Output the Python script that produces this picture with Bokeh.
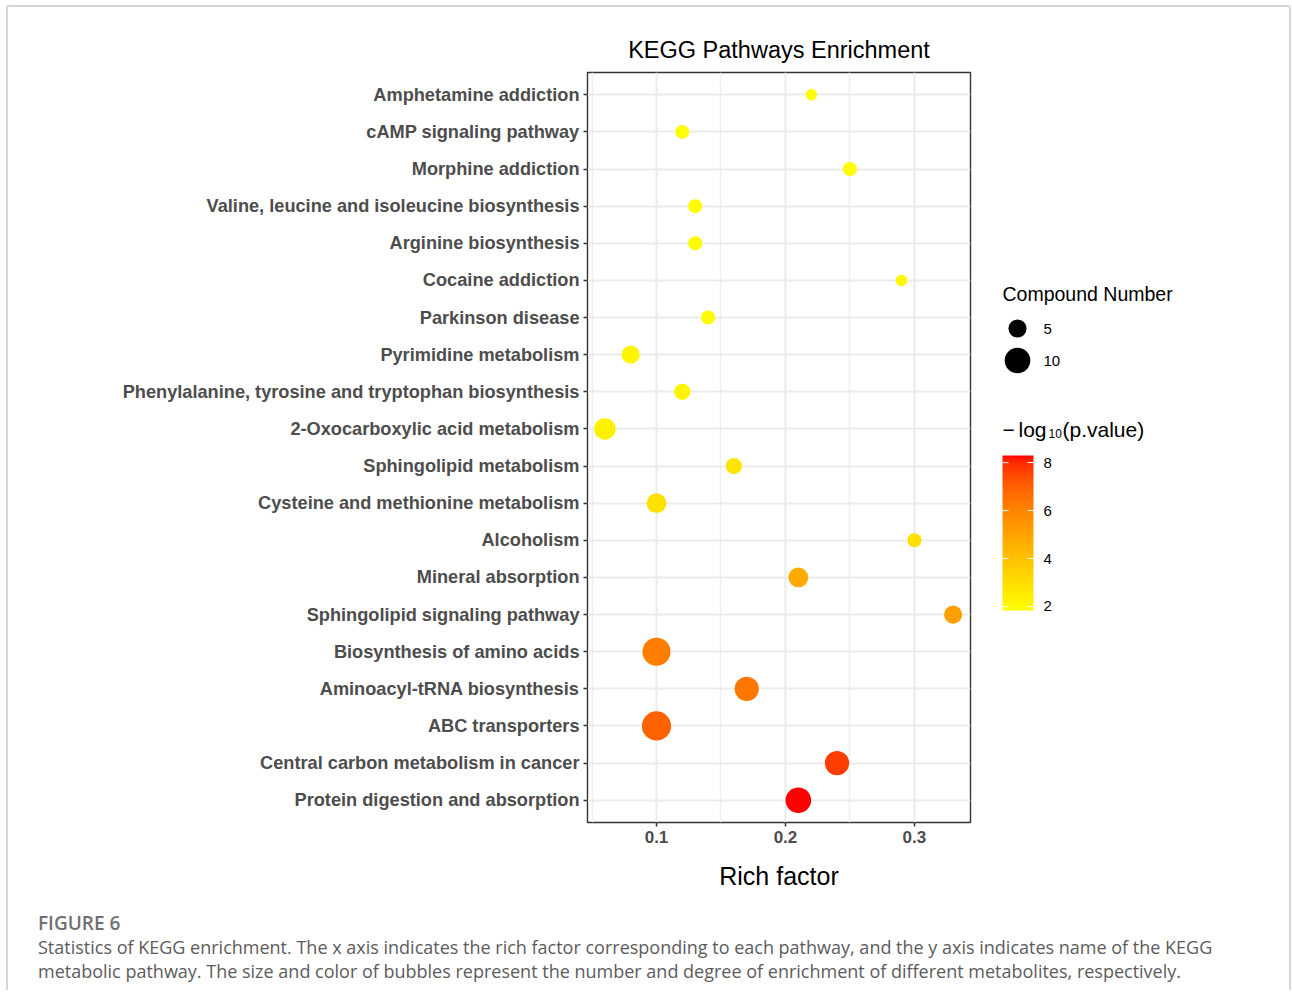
import math
from bokeh.plotting import figure
from bokeh.models import (Range1d, FixedTicker, LinearColorMapper, ColorBar,
                          ColumnDataSource, Div)
from bokeh.layouts import column, row
from bokeh.core.properties import value
from bokeh.embed import file_html
from bokeh.resources import INLINE

# ---------------- data ----------------
pathways = [
    "Amphetamine addiction",
    "cAMP signaling pathway",
    "Morphine addiction",
    "Valine, leucine and isoleucine biosynthesis",
    "Arginine biosynthesis",
    "Cocaine addiction",
    "Parkinson disease",
    "Pyrimidine metabolism",
    "Phenylalanine, tyrosine and tryptophan biosynthesis",
    "2-Oxocarboxylic acid metabolism",
    "Sphingolipid metabolism",
    "Cysteine and methionine metabolism",
    "Alcoholism",
    "Mineral absorption",
    "Sphingolipid signaling pathway",
    "Biosynthesis of amino acids",
    "Aminoacyl-tRNA biosynthesis",
    "ABC transporters",
    "Central carbon metabolism in cancer",
    "Protein digestion and absorption",
]
rich_factor = [0.22, 0.12, 0.25, 0.13, 0.13, 0.29, 0.14, 0.08, 0.12, 0.06,
               0.16, 0.10, 0.30, 0.21, 0.33, 0.10, 0.17, 0.10, 0.24, 0.21]
compound_number = [2, 3, 3, 3, 3, 2, 3, 5, 4, 7,
                   4, 6, 3, 6, 5, 12, 9, 13, 9, 10]
neg_log10_p = [1.83, 1.90, 1.90, 1.95, 1.95, 2.10, 2.00, 2.20, 2.20, 2.30,
               2.80, 2.90, 2.95, 4.80, 5.10, 6.20, 6.40, 6.90, 7.70, 8.30]
x_ticks = [0.1, 0.2, 0.3]
x_minor_ticks = [0.05, 0.15, 0.25]
size_legend_values = [5, 10]
color_ticks = [2, 4, 6, 8]

title_text = "KEGG Pathways Enrichment"
x_label = "Rich factor"
size_legend_title = "Compound Number"
caption_head = "FIGURE 6"
caption_text = ("Statistics of KEGG enrichment. The x axis indicates the rich factor "
                "corresponding to each pathway, and the y axis indicates name of the KEGG<br>"
                "metabolic pathway. The size and color of bubbles represent the number and "
                "degree of enrichment of different metabolites, respectively.")

# ---------------- helpers ----------------
FONT = "Liberation Sans"
SIZE_K = 8.1  # px diameter per sqrt(count)


def _lin(c):
    c = c / 255.0
    return c / 12.92 if c <= 0.04045 else ((c + 0.055) / 1.055) ** 2.4


def _delin(c):
    c = 12.92 * c if c <= 0.0031308 else 1.055 * c ** (1 / 2.4) - 0.055
    return max(0, min(255, round(c * 255)))


def rgb_to_lab(rgb):
    r, g, b = (_lin(v) for v in rgb)
    X = (0.4124 * r + 0.3576 * g + 0.1805 * b) / 0.95047
    Y = (0.2126 * r + 0.7152 * g + 0.0722 * b)
    Z = (0.0193 * r + 0.1192 * g + 0.9505 * b) / 1.08883
    d = 6 / 29

    def f(t):
        return t ** (1 / 3) if t > d ** 3 else t / (3 * d * d) + 4 / 29
    fx, fy, fz = f(X), f(Y), f(Z)
    return (116 * fy - 16, 500 * (fx - fy), 200 * (fy - fz))


def lab_to_hex(lab):
    L, a, b = lab
    d = 6 / 29
    fy = (L + 16) / 116
    fx = fy + a / 500
    fz = fy - b / 200

    def finv(t):
        return t ** 3 if t > d else 3 * d * d * (t - 4 / 29)
    X, Y, Z = finv(fx) * 0.95047, finv(fy), finv(fz) * 1.08883
    r = 3.2406 * X - 1.5372 * Y - 0.4986 * Z
    g = -0.9689 * X + 1.8758 * Y + 0.0415 * Z
    bb = 0.0557 * X - 0.2040 * Y + 1.0570 * Z
    return "#%02x%02x%02x" % (_delin(max(0, r)), _delin(max(0, g)), _delin(max(0, bb)))


low_lab = rgb_to_lab((255, 255, 0))
high_lab = rgb_to_lab((255, 0, 0))
palette = [lab_to_hex(tuple(l + (h - l) * i / 255 for l, h in zip(low_lab, high_lab)))
           for i in range(256)]
c_lo, c_hi = min(neg_log10_p), max(neg_log10_p)
mapper = LinearColorMapper(palette=palette, low=c_lo, high=c_hi)

n = len(pathways)
ypos = list(range(n, 0, -1))
src = ColumnDataSource(dict(
    x=rich_factor, y=ypos, name=pathways, p=neg_log10_p,
    size=[SIZE_K * math.sqrt(c) for c in compound_number],
))

span = max(rich_factor) - min(rich_factor)
x_lo = min(rich_factor) - 0.05 * span
x_hi = max(rich_factor) + 0.05 * span

# ---------------- geometry ----------------
PW, PH = 982, 893
B_LEFT, B_RIGHT, B_TOP, B_BOTTOM = 579, 20, 65, 78
FRAME_H = PH - B_TOP - B_BOTTOM

# ---------------- main plot ----------------
p = figure(width=PW, height=PH, output_backend="svg", toolbar_location=None,
           x_range=Range1d(x_lo, x_hi), y_range=Range1d(0.4, n + 0.6),
           min_border_left=B_LEFT, min_border_right=B_RIGHT, min_border_top=B_TOP,
           min_border_bottom=B_BOTTOM)
p.background_fill_color = "white"
p.border_fill_color = "white"
p.outline_line_color = "#333333"
p.outline_line_width = 1.4

p.title.text = title_text
p.title.align = "center"
p.title.text_font = FONT
p.title.text_font_size = "23.5px"
p.title.text_font_style = "normal"
p.title.text_color = "black"
p.title.standoff = 20

p.xaxis.ticker = FixedTicker(ticks=x_ticks, minor_ticks=x_minor_ticks)
p.yaxis.ticker = FixedTicker(ticks=ypos)
p.yaxis.major_label_overrides = {y: nm for y, nm in zip(ypos, pathways)}

for ax in (p.xaxis[0], p.yaxis[0]):
    ax.axis_line_color = None
    ax.major_tick_in = 0
    ax.major_tick_out = 4
    ax.major_tick_line_color = "#333333"
    ax.major_tick_line_width = 1.5
    ax.minor_tick_line_color = None
    ax.major_label_text_font = FONT
    ax.major_label_text_font_style = "bold"
    ax.major_label_text_color = "#4D4D4D"
    ax.major_label_standoff = 4

p.yaxis.major_label_text_font_size = "18.2px"
p.xaxis.major_label_text_font_size = "17px"
p.xaxis.axis_label = x_label
p.xaxis.axis_label_text_font = FONT
p.xaxis.axis_label_text_font_size = "25px"
p.xaxis.axis_label_text_font_style = "normal"
p.xaxis.axis_label_text_color = "black"
p.xaxis.axis_label_standoff = 16

p.xgrid.grid_line_color = "#EBEBEB"
p.xgrid.grid_line_width = 2
p.xgrid.minor_grid_line_color = "#EFEFEF"
p.xgrid.minor_grid_line_width = 1.5
p.ygrid.grid_line_color = "#EBEBEB"
p.ygrid.grid_line_width = 2

p.scatter(x="x", y="y", size="size", source=src, line_color=None,
          fill_color={"field": "p", "transform": mapper})

# ---------------- legend panel ----------------
# frame of this panel is aligned with the main frame; data units = px from frame top
LW = 299
lg = figure(width=LW, height=PH, output_backend="svg", toolbar_location=None,
            x_range=Range1d(0, LW), y_range=Range1d(FRAME_H, 0),
            x_axis_type=None, y_axis_type=None,
            min_border_left=0, min_border_right=0,
            min_border_top=B_TOP, min_border_bottom=B_BOTTOM)
lg.outline_line_color = None
lg.grid.visible = False
lg.background_fill_color = "white"
lg.border_fill_color = "white"

lg.text(x=[12], y=[221], text=[size_legend_title], text_font=value(FONT),
        text_font_size="19.5px", text_baseline="middle", text_color="black")
leg_y = [256, 288]
lg.scatter(x=[27] * len(size_legend_values), y=leg_y,
           size=[SIZE_K * math.sqrt(v) for v in size_legend_values],
           fill_color="black", line_color=None)
lg.text(x=[53] * len(size_legend_values), y=leg_y,
        text=[str(v) for v in size_legend_values], text_font=value(FONT),
        text_font_size="15px", text_baseline="middle", text_color="black")

# colour legend title: − log10(p.value)
lg.text(x=[12], y=[357], text=["\u2212"], text_font=value(FONT),
        text_font_size="21px", text_baseline="alphabetic", text_color="black")
lg.text(x=[28], y=[357], text=["log"], text_font=value(FONT),
        text_font_size="21px", text_baseline="alphabetic", text_color="black")
lg.text(x=[58], y=[361], text=["10"], text_font=value(FONT),
        text_font_size="12px", text_baseline="alphabetic", text_color="black")
lg.text(x=[72], y=[357], text=["(p.value)"], text_font=value(FONT),
        text_font_size="21px", text_baseline="alphabetic", text_color="black")

BAR_X, BAR_W, BAR_TOP, BAR_H = 12, 31, 383, 155
cb = ColorBar(color_mapper=mapper, ticker=FixedTicker(ticks=color_ticks),
              width=BAR_W, height=BAR_H,
              location=(BAR_X, FRAME_H - (BAR_TOP + BAR_H)), padding=0,
              label_standoff=10, major_label_text_font=FONT,
              major_label_text_font_size="15px", major_label_text_color="black",
              major_tick_in=6, major_tick_out=0, major_tick_line_color="white",
              major_tick_line_width=1, minor_tick_line_color=None,
              bar_line_color=None, border_line_color=None,
              background_fill_color=None, orientation="vertical")
lg.add_layout(cb)
# white ticks on the left edge of the bar as well (ggplot style)
tick_y = [BAR_TOP + BAR_H - (v - c_lo) / (c_hi - c_lo) * BAR_H for v in color_ticks]
lg.segment(x0=[BAR_X] * len(tick_y), x1=[BAR_X + 6] * len(tick_y), y0=tick_y, y1=tick_y,
           line_color="white", line_width=1, level="overlay")

# ---------------- caption ----------------
cap = Div(
    text=(f'<div style="font-family:\'Open Sans\';padding:11px 0 0 30px;line-height:24px;">'
          f'<div style="font-size:19px;font-weight:600;color:#707070;">{caption_head}</div>'
          f'<div style="font-size:18px;color:#5c5c5c;">{caption_text}</div></div>'),
    width=PW + LW, height=90, margin=0)

root = column(row(p, lg, spacing=0), cap, spacing=0,
              styles={"margin": "5px 0 0 6px",
                      "border-top": "2px solid #d6d6d6",
                      "border-left": "2px solid #d6d6d6",
                      "border-right": "2px solid #d6d6d6",
                      "border-radius": "3px 3px 0 0"})

open("out.html", "w").write(file_html(root, INLINE))
